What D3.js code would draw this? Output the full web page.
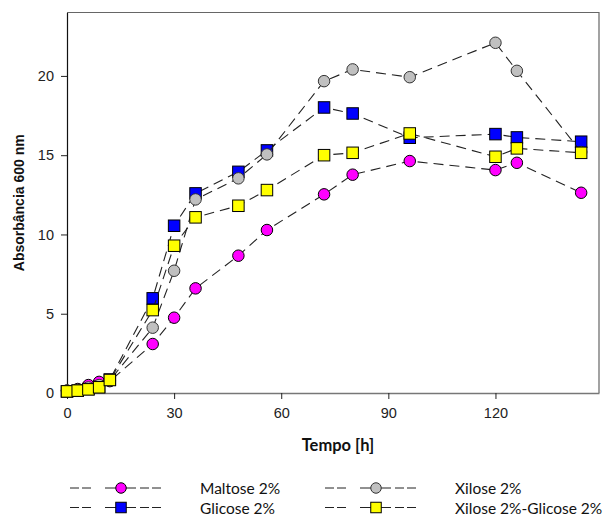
<!DOCTYPE html>
<html>
<head>
<meta charset="utf-8">
<script src="https://cdn.jsdelivr.net/npm/d3@7"></script>
<style>
  html, body { margin: 0; padding: 0; background: #fff; }
  svg { display: block; }
</style>
</head>
<body>
<svg id="chart" width="608" height="516"></svg>
<script>
// Sampling times (h)
const hours = [0, 3, 6, 9, 12, 24, 30, 36, 48, 56, 72, 80, 96, 120, 126, 144];

// Absorbance at 600 nm for each carbon source
const maltose = [0.15, 0.25, 0.5, 0.7, 0.75, 3.09, 4.75, 6.6, 8.66, 10.28, 12.53, 13.77, 14.63, 14.06, 14.52, 12.63];
const glicose = [0.1, 0.15, 0.25, 0.4, 0.85, 5.97, 10.55, 12.59, 13.95, 15.3, 18.01, 17.63, 16.1, 16.33, 16.12, 15.85];
const xilose = [0.15, 0.2, 0.35, 0.5, 0.8, 4.12, 7.71, 12.21, 13.54, 15.05, 19.67, 20.41, 19.92, 22.09, 20.32, 15.2];
const xiloseGlicose = [0.1, 0.15, 0.23, 0.36, 0.82, 5.23, 9.29, 11.08, 11.81, 12.8, 15.0, 15.15, 16.37, 14.9, 15.43, 15.15];

const seriesNames = ["Maltose 2%", "Glicose 2%", "Xilose 2%", "Xilose 2%-Glicose 2%"];
const xTicks = [0, 30, 60, 90, 120];
const yTicks = [0, 5, 10, 15, 20];

const series = [
  { name: seriesNames[0], values: maltose, shape: "circle", fill: "#ff00ff", stroke: "#000" },
  { name: seriesNames[1], values: glicose, shape: "square", fill: "#0000ff", stroke: "#000" },
  { name: seriesNames[2], values: xilose, shape: "circle", fill: "#c0c0c0", stroke: "#333" },
  { name: seriesNames[3], values: xiloseGlicose, shape: "square", fill: "#ffff00", stroke: "#000" }
];

const svg = d3.select("#chart");
const plot = { left: 67, right: 599, top: 12.5, bottom: 393 };

const x = d3.scaleLinear().domain([0, 149]).range([plot.left, plot.right]);
const y = d3.scaleLinear().domain([0, 24]).range([plot.bottom, plot.top]);

// frame: top and right edges
svg.append("path")
  .attr("d", `M${plot.left},${plot.top}H${plot.right}V${plot.bottom}`)
  .attr("fill", "none").attr("stroke", "#666").attr("stroke-width", 1.2);

// axes
const tickFont = "'Liberation Sans', Arial, sans-serif";
const xAxis = svg.append("g")
  .attr("transform", `translate(0,${plot.bottom})`)
  .call(d3.axisBottom(x).tickValues(xTicks).tickSize(6).tickPadding(9).tickSizeOuter(0));
xAxis.select(".domain").attr("stroke", "#777").attr("stroke-width", 1.4);
xAxis.selectAll(".tick line").attr("stroke", "#222");

const yAxis = svg.append("g")
  .attr("transform", `translate(${plot.left},0)`)
  .call(d3.axisLeft(y).tickValues(yTicks).tickSize(6).tickPadding(7).tickSizeOuter(0));
yAxis.select(".domain").attr("stroke", "#111").attr("stroke-width", 1.2);
yAxis.selectAll(".tick line").attr("stroke", "#222");

svg.selectAll(".tick text")
  .attr("font-family", tickFont).attr("font-size", 14.5).attr("fill", "#222");

// axis titles
svg.append("text")
  .attr("x", 338).attr("y", 451)
  .attr("text-anchor", "middle")
  .attr("font-family", "Lato, 'Open Sans', sans-serif")
  .attr("font-weight", "bold").attr("font-size", 16.5)
  .attr("fill", "#111")
  .text("Tempo [h]");

svg.append("text")
  .attr("transform", `translate(24,${(plot.top + plot.bottom) / 2}) rotate(-90)`)
  .attr("text-anchor", "middle")
  .attr("font-family", tickFont)
  .attr("font-weight", "bold").attr("font-size", 14)
  .attr("fill", "#111")
  .text("Absorbância 600 nm");

// marker helper
function drawMarker(sel, s, size) {
  if (s.shape === "circle") {
    sel.append("circle").attr("r", size / 2)
      .attr("fill", s.fill).attr("stroke", s.stroke).attr("stroke-width", 1);
  } else {
    sel.append("rect").attr("x", -size / 2).attr("y", -size / 2)
      .attr("width", size).attr("height", size)
      .attr("fill", s.fill).attr("stroke", s.stroke).attr("stroke-width", 1);
  }
}

// data lines and markers, one series after another
const line = d3.line().x((d, i) => x(hours[i])).y(d => y(d));
series.forEach(s => {
  const g = svg.append("g");
  g.append("path")
    .attr("d", line(s.values))
    .attr("fill", "none").attr("stroke", "#222").attr("stroke-width", 1.1)
    .attr("stroke-dasharray", "10,6");
  s.values.forEach((v, i) => {
    const m = g.append("g").attr("transform", `translate(${x(hours[i])},${y(v)})`);
    drawMarker(m, s, 11.5);
  });
});

// legend: two columns, two rows
const legendCols = [70, 325];
const legendRows = [488, 507.5];
const textOffset = 130;
series.forEach((s, k) => {
  const col = legendCols[Math.floor(k / 2)];
  const row = legendRows[k % 2];
  const g = svg.append("g").attr("transform", `translate(${col},${row})`);
  g.append("path").attr("d", "M0,0H21").attr("stroke", "#222").attr("stroke-width", 1).attr("stroke-dasharray", "9,3");
  g.append("path").attr("d", "M35,0H66").attr("stroke", "#222").attr("stroke-width", 1);
  g.append("path").attr("d", "M70,0H92").attr("stroke", "#222").attr("stroke-width", 1).attr("stroke-dasharray", "9,3");
  const m = g.append("g").attr("transform", "translate(51,0)");
  drawMarker(m, s, 10.5);
  g.append("text")
    .attr("x", textOffset).attr("y", 6)
    .attr("font-family", "Lato, 'Open Sans', sans-serif")
    .attr("font-size", 15.5).attr("fill", "#111")
    .text(s.name);
});
</script>
</body>
</html>
